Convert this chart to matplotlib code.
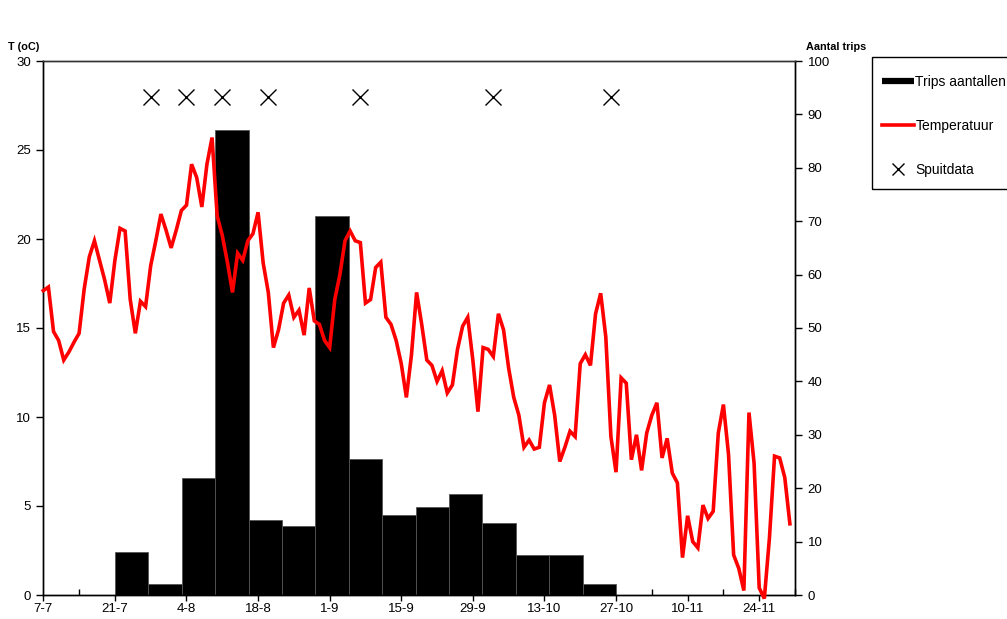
import matplotlib
matplotlib.use("Agg")
import matplotlib.pyplot as plt
from matplotlib.lines import Line2D
from matplotlib.patches import Rectangle
import numpy as np

plt.rcParams['font.family'] = ['Liberation Sans', 'DejaVu Sans']

# ---- data ----
tick_labels = ["7-7", "21-7", "4-8", "18-8", "1-9", "15-9", "29-9", "13-10", "27-10", "10-11", "24-11"]
# daily temperature from 7-7 (day 0) to 30-11 (day 146)
temperature = [
    17.1, 17.3, 14.8, 14.3, 13.2, 13.65, 14.2, 14.7, 17.2, 19.0,
    19.9, 18.8, 17.7, 16.4, 18.8, 20.6, 20.45, 16.6, 14.7, 16.5,
    16.2, 18.5, 19.9, 21.4, 20.5, 19.5, 20.5, 21.6, 21.9, 24.2,
    23.45, 21.8, 24.2, 25.7, 21.3, 20.2, 18.7, 17.0, 19.2, 18.8,
    19.9, 20.3, 21.5, 18.65, 17.0, 13.9, 14.9, 16.4, 16.85, 15.6,
    16.0, 14.6, 17.25, 15.4, 15.2, 14.3, 13.9, 16.6, 18.0, 19.9,
    20.45, 19.9, 19.8, 16.4, 16.6, 18.4, 18.7, 15.6, 15.2, 14.3,
    13.0, 11.1, 13.5, 17.0, 15.2, 13.2, 12.9, 12.0, 12.6, 11.35,
    11.8, 13.8, 15.1, 15.6, 13.2, 10.3, 13.9, 13.8, 13.4, 15.8,
    14.9, 12.75, 11.1, 10.1, 8.3, 8.7, 8.2, 8.3, 10.8, 11.8,
    10.1, 7.5, 8.3, 9.2, 8.9, 13.0, 13.5, 12.9, 15.8, 16.95,
    14.5, 8.9, 6.9, 12.2, 11.9, 7.6, 9.0, 7.0, 9.1, 10.1,
    10.8, 7.7, 8.8, 6.85, 6.3, 2.1, 4.45, 3.0, 2.65, 5.05,
    4.3, 4.7, 9.1, 10.7, 7.9, 2.25, 1.5, 0.25, 10.25, 7.4,
    0.4, -0.2, 3.2, 7.8, 7.7, 6.6, 4.0,
]
# weekly trips counts, from 21-7 to 27-10
trips = [8, 2, 22, 87, 14, 13, 71, 25.5, 15, 16.5, 19, 13.5, 7.5, 7.5, 2]
trips_first_day = 14    # 21-7
trips_last_day = 112    # 27-10
# spray dates (days after 7-7) shown at a fixed level
spray_days = [21, 28, 35, 44, 62, 88, 111]
spray_level = 28

n_days = 147

fig = plt.figure(figsize=(10.07, 6.19), dpi=100)
W, H = 1007, 619
pos = [43.3 / W, 1 - 595 / H, (795 - 43.3) / W, (595 - 61) / H]

# bar axes (categories, right scale)
axb = fig.add_axes(pos)
nb = len(trips)
wdays = (trips_last_day - trips_first_day) / nb
left = -0.5 - trips_first_day / wdays
axb.set_xlim(left, left + n_days / wdays)
axb.set_ylim(0, 100)
axb.bar(np.arange(nb), trips, width=1.0, color='black', edgecolor='#555555', linewidth=0.6)
axb.set_xticks([])
axb.yaxis.tick_right()
axb.set_yticks(np.arange(0, 101, 10))
axb.tick_params(axis='y', direction='out', length=5, width=1, labelsize=9.5, pad=4)

# temperature axes (date axis, left scale)
axt = fig.add_axes(pos)
axt.patch.set_alpha(0)
days = np.arange(len(temperature))
axt.plot(days, temperature, color='#ff0000', lw=2.6, solid_joinstyle='miter', clip_on=False, zorder=3)
axt.plot(spray_days, [spray_level] * len(spray_days), ls='none', marker='x', ms=11, mew=1.0, color='black', zorder=4)
axt.set_xlim(0, n_days)
axt.set_ylim(0, 30)
axt.set_yticks(np.arange(0, 31, 5))
axt.set_xticks(np.arange(0, 141, 14))
axt.set_xticklabels(tick_labels)
axt.set_xticks(np.arange(7, 148, 14), minor=True)
axt.tick_params(axis='x', which='major', direction='out', length=4, width=1, labelsize=9.5, pad=2)
axt.tick_params(axis='x', which='minor', direction='in', length=4, width=1)
axt.tick_params(axis='y', direction='out', length=5, width=1, labelsize=9.5, pad=4)

for a in (axb, axt):
    for s in a.spines.values():
        s.set_linewidth(1.0)
        s.set_color('black')
    a.spines['top'].set_color('#333333')

fig.text(8 / W, 1 - 47 / H, "T (oC)", fontsize=7.8, fontweight='bold', va='center', ha='left')
fig.text(806 / W, 1 - 47 / H, "Aantal trips", fontsize=7.8, fontweight='bold', va='center', ha='left')

# legend frame
fig.patches.append(Rectangle((872 / W, 1 - 189 / H), 140 / W, (189 - 57) / H,
                             transform=fig.transFigure, fill=False,
                             edgecolor='black', linewidth=1.0))
handles = [Line2D([], [], color='black', lw=4.5, solid_capstyle='butt'),
           Line2D([], [], color='#ff0000', lw=2.6),
           Line2D([], [], ls='none', marker='x', ms=8, mew=1.0, color='black')]
leg = fig.legend(handles, ["Trips aantallen", "Temperatuur", "Spuitdata"],
                 loc='upper left', bbox_to_anchor=(882 / W, 1 - 75 / H),
                 fontsize=10, frameon=False, handlelength=2.3,
                 handletextpad=0.1, labelspacing=2.15,
                 borderpad=0, borderaxespad=0)

fig.savefig("out.png", dpi=100)
